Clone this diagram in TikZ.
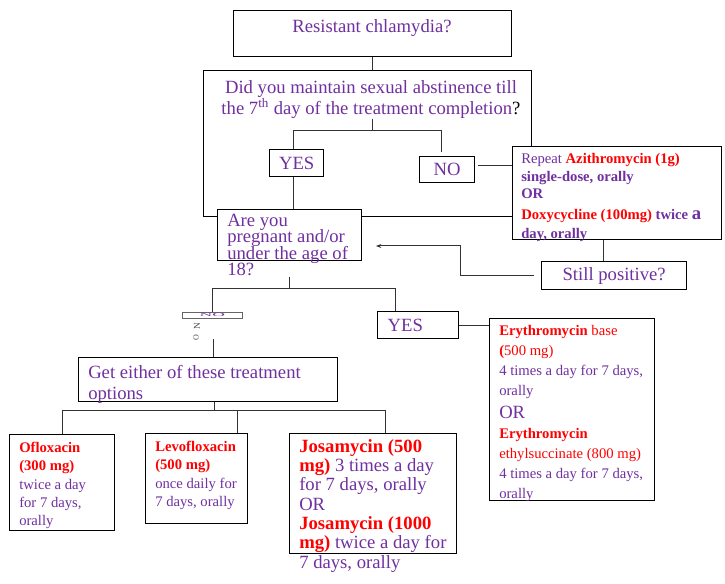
\documentclass[tikz,border=0pt]{standalone}
\usepackage{fontspec}
\setmainfont{Liberation Serif}
\usepackage{xcolor}
\usepackage{tikz}
\usetikzlibrary{arrows.meta}
\definecolor{ppurple}{HTML}{7030A0}
\definecolor{pred}{HTML}{FF0000}
\newcommand{\drug}[1]{{\color{pred}\bfseries#1}}
\newcommand{\dose}[1]{{\color{pred}#1}}

\begin{document}
\begin{tikzpicture}[x=0.75pt,y=-0.75pt,
    box/.style={draw,line width=1pt,fill=white,inner sep=0pt,anchor=north west},
    sized/.style 2 args={minimum width=#1*0.75pt,minimum height=#2*0.75pt},
    txt/.style={inner sep=0pt,text=ppurple,align=left,anchor=north west},
    wire/.style={line width=0.75pt,black!80},
    big/.style={font={\fontsize{14}{#1}\selectfont\lineskiplimit=-20pt}},
    small/.style={font={\fontsize{11}{#1}\selectfont\lineskiplimit=-20pt}}]
  \useasboundingbox (0,0) rectangle (725,584);

  % first question and its answers
  \node[box,sized={328}{146}] (did) at (203,70) {};
  \node[txt,big=15.75,align=center,anchor=north] (did-t) at (371,80)
    {Did you maintain sexual abstinence till\\
     the 7\textsuperscript{th} day of the treatment completion{\color{black}?}};
  \node[box,sized={278}{46}] (res) at (233,10) {};
  \node[txt,big=16,anchor=north] (res-t) at (372,19) {Resistant chlamydia?};
  \node[box,sized={54}{27},big=16,text=ppurple] (yes1) at (269,149) {YES};
  \node[box,sized={55}{26},big=16,text=ppurple] (no1) at (419,156) {NO};

  \node[box,sized={209}{93}] (rep) at (512,146) {};
  \node[txt,small=13] (rep-t) at (521,153.5)
    {Repeat \drug{Azithromycin (1g)}\\
     \textbf{single-dose, orally}\\
     \textbf{OR}\\[3pt]
     \drug{Doxycycline (100mg)} \textbf{twice {\fontsize{14}{13}\selectfont a}}\\[1pt]
     \textbf{day, orally}};
  \node[box,sized={145}{28},big=16,text=ppurple] (still) at (541,261) {Still positive?};

  % second question
  \node[box,sized={144}{51}] (are) at (217,209) {};
  \node[txt,big=12.4] (are-t) at (227,213.5)
    {Are you\\ pregnant and/or\\ under the age of\\ 18?};

  \node[box,sized={60}{6},line width=0.6pt,draw=black!60] (no2) at (182,312) {};
  \node[inner sep=0pt,text=ppurple,font={\fontsize{6}{6}\selectfont},
        xscale=2.2,yscale=0.6,transform shape] (no2-t) at (no2.center) {NO};
  \node[inner sep=0pt,text=black!70,font={\fontsize{7}{7}\selectfont},rotate=90] (no2-a) at (197,326) {N};
  \node[inner sep=0pt,text=black!70,font={\fontsize{6}{6}\selectfont},rotate=90] (no2-b) at (196,338) {O};

  \node[box,sized={81}{27},big=16,text=ppurple,align=left,
        inner xsep=7.5pt,text width=45.75pt] (yes2) at (377,311) {YES};

  \node[box,sized={165}{182}] (ery) at (489,318) {};
  \node[txt,small=15] (ery-t) at (499,325)
    {\drug{Erythromycin} \dose{base}\\
     \drug{(}\dose{500 mg)}\\
     4 times a day for 7 days,\\
     orally\\[2pt]
     {\fontsize{14}{15}\selectfont OR}\\
     \drug{Erythromycin}\\
     \dose{ethylsuccinate (800 mg)}\\
     4 times a day for 7 days,\\
     orally};

  % treatment options
  \node[box,sized={259}{44}] (get) at (78,357) {};
  \node[txt,big=15.75] (get-t) at (88,365.5)
    {Get either of these treatment\\ options};

  \node[box,sized={105}{96}] (oflo) at (9,434) {};
  \node[txt,small=13.7] (oflo-t) at (19,442)
    {\drug{Ofloxacin}\\ \drug{(300 mg)}\\ twice a day\\ for 7 days,\\ orally};
  \node[box,sized={102}{90}] (levo) at (145,433) {};
  \node[txt,small=13.7] (levo-t) at (155,441)
    {\drug{Levofloxacin}\\ \drug{(500 mg)}\\ once daily for\\ 7 days, orally};
  \node[box,sized={167}{120}] (josa) at (289,433) {};
  \node[txt,big=14.5] (josa-t) at (299,439)
    {\drug{Josamycin (500}\\ \drug{mg)} 3 times a day\\ for 7 days, orally\\ OR\\
     \drug{Josamycin (1000}\\ \drug{mg)} twice a day for\\ 7 days, orally};

  % connectors
  \coordinate (split1) at (372,131);
  \coordinate (nostub) at (441,152);
  \coordinate (turn) at (460,246);
  \coordinate (back) at (376,246);
  \coordinate (stem2) at (289,277);
  \coordinate (split2) at (289,289);
  \coordinate (nostem) at (213,339);
  \coordinate (split3) at (214,411);

  \draw[wire] (res.south) -- (res.south |- did.north);
  \draw[wire] (did-t.south -| split1) -- (split1);
  \draw[wire] (split1) -| ([xshift=-2.25pt]yes1.north);
  \draw[wire] (split1) -| (nostub);
  \draw[wire] ([xshift=-2.25pt]yes1.south) -- ([xshift=-2.25pt]yes1.south |- are.north);
  \draw[wire] ([xshift=2.25pt,yshift=3pt]no1.east) -- ([yshift=3pt]no1.east -| rep.west);
  \draw[wire] ([xshift=-10pt]rep.south) -- ([xshift=-10pt]rep.south |- still.north);
  \draw[wire,-{Stealth[length=4pt,width=3pt]}] ([xshift=-5pt]still.west) -| (turn) -- (back);
  \draw[wire] (stem2) -- (split2);
  \draw[wire] (split2) -| (no2.north);
  \draw[wire] (split2) -| ([xshift=13.5pt]yes2.north west);
  \draw[wire] (yes2.east) -- (yes2.east -| ery.west);
  \draw[wire] (nostem) -- (nostem |- get.north);
  \draw[wire] (get.south -| split3) -- (split3);
  \draw[wire] (split3) -| (oflo.north);
  \draw[wire] (split3) -| ([xshift=30.75pt]levo.north);
  \draw[wire] (split3) -| ([xshift=9.4pt]josa.north);
\end{tikzpicture}
\end{document}
